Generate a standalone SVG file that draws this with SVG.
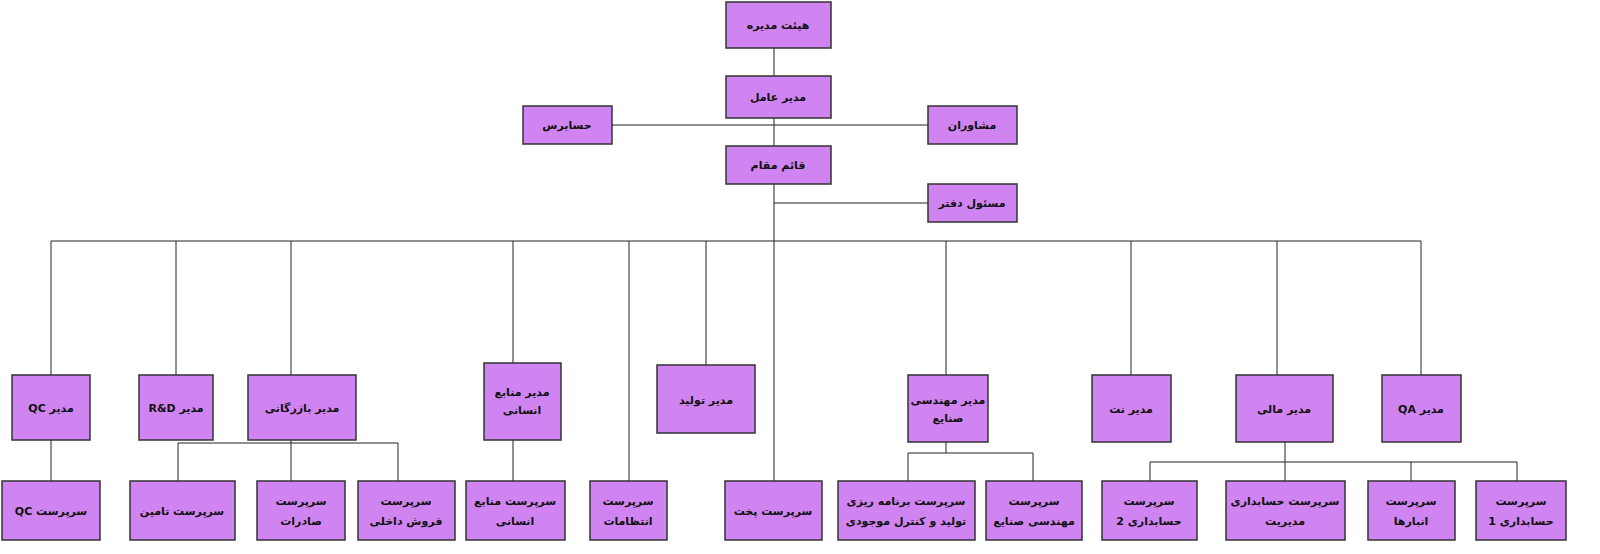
<svg xmlns="http://www.w3.org/2000/svg" width="1600" height="554" viewBox="0 0 1600 554">
<style>
rect{fill:#d084f2;stroke:#333;stroke-width:1.5}
text{font-family:"DejaVu Sans",sans-serif;font-size:11px;font-weight:bold;fill:#111;text-anchor:middle;direction:rtl;unicode-bidi:embed}
.c path{fill:none;stroke:#222;stroke-width:1}
</style>
<rect x="0" y="0" width="1600" height="554" style="fill:#fff;stroke:none"/>
<g class="c">
<path d="M774 48V76M774 118V146M612 125H928M774 184V540M774 203H928M51 241H1421M51 241V375M176 241V375M291 241V375M513 241V363M629 241V481M706 241V365M946 241V375M1131 241V375M1277 241V375M1421 241V375"/>
<path d="M51 440V481M291 440V481M178 443H398M178 443V481M398 443V481M513 440V481M946 442V453H908V481M946 453H1033V481M1285 442V481M1150 462H1517M1150 462V481M1411 462V481M1517 462V481"/>
</g>
<g id="n1"><rect x="726" y="2" width="105" height="46"/><text x="778" y="29">هیئت مدیره</text></g>
<g id="n2"><rect x="726" y="76" width="105" height="42"/><text x="778" y="101">مدیر عامل</text></g>
<g id="n3"><rect x="523" y="106" width="89" height="38"/><text x="567" y="129">حسابرس</text></g>
<g id="n4"><rect x="928" y="106" width="89" height="38"/><text x="972" y="129">مشاوران</text></g>
<g id="n5"><rect x="726" y="146" width="105" height="38"/><text x="778" y="169">قائم مقام</text></g>
<g id="n6"><rect x="928" y="184" width="89" height="38"/><text x="972" y="207">مسئول دفتر</text></g>
<g id="m1"><rect x="12" y="375" width="78" height="65"/><text x="51" y="412">مدیر QC</text></g>
<g id="m2"><rect x="139" y="375" width="74" height="65"/><text x="176" y="412">مدیر R&amp;D</text></g>
<g id="m3"><rect x="248" y="375" width="108" height="65"/><text x="302" y="412">مدیر بازرگانی</text></g>
<g id="m4"><rect x="484" y="363" width="77" height="77"/><text x="522" y="396">مدیر منابع</text><text x="522" y="414">انسانی</text></g>
<g id="m5"><rect x="657" y="365" width="98" height="68"/><text x="706" y="404">مدیر تولید</text></g>
<g id="m6"><rect x="908" y="375" width="80" height="67"/><text x="948" y="404">مدیر مهندسی</text><text x="948" y="422">صنایع</text></g>
<g id="m7"><rect x="1092" y="375" width="79" height="67"/><text x="1131" y="413">مدیر نت</text></g>
<g id="m8"><rect x="1236" y="375" width="97" height="67"/><text x="1284" y="413">مدیر مالی</text></g>
<g id="m9"><rect x="1382" y="375" width="79" height="67"/><text x="1421" y="413">مدیر QA</text></g>
<g id="s1"><rect x="2" y="481" width="98" height="59"/><text x="51" y="515">سرپرست QC</text></g>
<g id="s2"><rect x="130" y="481" width="105" height="59"/><text x="182" y="515">سرپرست تامین</text></g>
<g id="s3"><rect x="257" y="481" width="88" height="59"/><text x="301" y="505">سرپرست</text><text x="301" y="525">صادرات</text></g>
<g id="s4"><rect x="358" y="481" width="97" height="59"/><text x="406" y="505">سرپرست</text><text x="406" y="525">فروش داخلی</text></g>
<g id="s5"><rect x="466" y="481" width="99" height="59"/><text x="515" y="505">سرپرست منابع</text><text x="515" y="525">انسانی</text></g>
<g id="s6"><rect x="590" y="481" width="77" height="59"/><text x="628" y="505">سرپرست</text><text x="628" y="525">انتظامات</text></g>
<g id="s7"><rect x="725" y="481" width="97" height="59"/><text x="773" y="515">سرپرست پخت</text></g>
<g id="s8"><rect x="838" y="481" width="137" height="59"/><text x="906" y="505">سرپرست برنامه ریزی</text><text x="906" y="525">تولید و کنترل موجودی</text></g>
<g id="s9"><rect x="986" y="481" width="96" height="59"/><text x="1034" y="505">سرپرست</text><text x="1034" y="525">مهندسی صنایع</text></g>
<g id="s10"><rect x="1102" y="481" width="95" height="59"/><text x="1149" y="505">سرپرست</text><text x="1149" y="525">حسابداری 2</text></g>
<g id="s11"><rect x="1226" y="481" width="119" height="59"/><text x="1285" y="505">سرپرست حسابداری</text><text x="1285" y="525">مدیریت</text></g>
<g id="s12"><rect x="1368" y="481" width="87" height="59"/><text x="1411" y="505">سرپرست</text><text x="1411" y="525">انبارها</text></g>
<g id="s13"><rect x="1476" y="481" width="90" height="59"/><text x="1521" y="505">سرپرست</text><text x="1521" y="525">حسابداری 1</text></g>
</svg>
